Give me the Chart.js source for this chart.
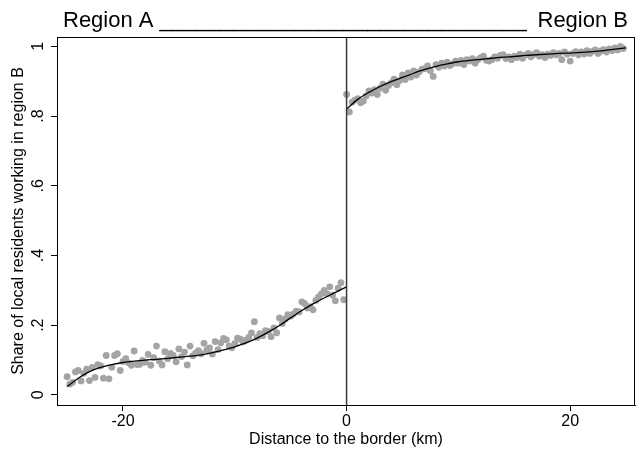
<!DOCTYPE html>
<html>
<head>
<meta charset="utf-8">
<script src="https://cdn.jsdelivr.net/npm/chart.js@4/dist/chart.umd.min.js"></script>
<style>
    body { margin: 0; background: #fff; }
    canvas { display: block; }
</style>
</head>
<body>
<canvas id="rdd" width="642" height="453"></canvas>
<script>
// Distance bins (km) and share working in region B
const distLeft = [
    -25, -24.75, -24.5, -24.25, -24, -23.75, -23.5, -23.25,
    -23, -22.75, -22.5, -22.25, -22, -21.75, -21.5, -21.25,
    -21, -20.75, -20.5, -20.25, -20, -19.75, -19.5, -19.25,
    -19, -18.75, -18.5, -18.25, -18, -17.75, -17.5, -17.25,
    -17, -16.75, -16.5, -16.25, -16, -15.75, -15.5, -15.25,
    -15, -14.75, -14.5, -14.25, -14, -13.75, -13.5, -13.25,
    -13, -12.75, -12.5, -12.25, -12, -11.75, -11.5, -11.25,
    -11, -10.75, -10.5, -10.25, -10, -9.75, -9.5, -9.25,
    -9, -8.75, -8.5, -8.25, -8, -7.75, -7.5, -7.25,
    -7, -6.75, -6.5, -6.25, -6, -5.75, -5.5, -5.25,
    -5, -4.75, -4.5, -4.25, -4, -3.75, -3.5, -3.25,
    -3, -2.75, -2.5, -2.25, -2, -1.75, -1.5, -1.25,
    -1, -0.75, -0.5, -0.25
];
const shareLeft = [
    0.052, 0.031, 0.036, 0.066, 0.070, 0.040, 0.062, 0.074,
    0.041, 0.079, 0.050, 0.087, 0.083, 0.048, 0.113, 0.046,
    0.079, 0.113, 0.118, 0.070, 0.096, 0.104, 0.092, 0.085,
    0.126, 0.087, 0.088, 0.099, 0.094, 0.116, 0.085, 0.107,
    0.140, 0.097, 0.086, 0.124, 0.104, 0.119, 0.113, 0.095,
    0.132, 0.110, 0.123, 0.086, 0.140, 0.112, 0.120, 0.127,
    0.118, 0.148, 0.129, 0.135, 0.117, 0.153, 0.130, 0.149,
    0.162, 0.158, 0.140, 0.135, 0.147, 0.163, 0.160, 0.152,
    0.157, 0.165, 0.178, 0.210, 0.165, 0.176, 0.170, 0.184,
    0.182, 0.167, 0.192, 0.178, 0.221, 0.205, 0.218, 0.230,
    0.226, 0.232, 0.240, 0.238, 0.267, 0.262, 0.249, 0.253,
    0.244, 0.271, 0.281, 0.290, 0.300, 0.290, 0.310, 0.286,
    0.270, 0.306, 0.322, 0.273
];
const distRight = [
    0, 0.25, 0.5, 0.75, 1, 1.25, 1.5, 1.75,
    2, 2.25, 2.5, 2.75, 3, 3.25, 3.5, 3.75,
    4, 4.25, 4.5, 4.75, 5, 5.25, 5.5, 5.75,
    6, 6.25, 6.5, 6.75, 7, 7.25, 7.5, 7.75,
    8, 8.25, 8.5, 8.75, 9, 9.25, 9.5, 9.75,
    10, 10.25, 10.5, 10.75, 11, 11.25, 11.5, 11.75,
    12, 12.25, 12.5, 12.75, 13, 13.25, 13.5, 13.75,
    14, 14.25, 14.5, 14.75, 15, 15.25, 15.5, 15.75,
    16, 16.25, 16.5, 16.75, 17, 17.25, 17.5, 17.75,
    18, 18.25, 18.5, 18.75, 19, 19.25, 19.5, 19.75,
    20, 20.25, 20.5, 20.75, 21, 21.25, 21.5, 21.75,
    22, 22.25, 22.5, 22.75, 23, 23.25, 23.5, 23.75,
    24, 24.25, 24.5, 24.75
];
const shareRight = [
    0.862, 0.812, 0.840, 0.846, 0.850, 0.838, 0.843, 0.858,
    0.872, 0.866, 0.876, 0.862, 0.880, 0.892, 0.874, 0.888,
    0.896, 0.906, 0.890, 0.902, 0.918, 0.905, 0.924, 0.912,
    0.930, 0.918, 0.927, 0.935, 0.936, 0.944, 0.930, 0.914,
    0.948, 0.940, 0.952, 0.944, 0.955, 0.945, 0.950, 0.958,
    0.952, 0.960, 0.948, 0.962, 0.958, 0.965, 0.952, 0.962,
    0.968, 0.972, 0.960, 0.958, 0.962, 0.970, 0.966, 0.974,
    0.976, 0.965, 0.970, 0.962, 0.972, 0.968, 0.978, 0.966,
    0.975, 0.980, 0.970, 0.977, 0.982, 0.972, 0.976, 0.968,
    0.978, 0.974, 0.982, 0.976, 0.980, 0.962, 0.984, 0.978,
    0.958, 0.980, 0.985, 0.976, 0.984, 0.978, 0.988, 0.980,
    0.986, 0.990, 0.980, 0.987, 0.991, 0.984, 0.993, 0.988,
    0.996, 0.990, 1.000, 0.994
];

// Fitted polynomial on each side of the border
const fitLeftX = [-25, -24, -23, -22, -21, -20, -19, -18, -17, -16, -15, -14, -13,
                  -12, -11, -10, -9, -8, -7, -6, -5, -4, -3, -2, -1, 0];
const fitLeftY = [0.024, 0.048, 0.067, 0.079, 0.087, 0.093, 0.097, 0.100, 0.102, 0.105, 0.108, 0.111, 0.115,
                  0.121, 0.129, 0.138, 0.149, 0.163, 0.180, 0.199, 0.221, 0.242, 0.261, 0.278, 0.294, 0.310];
const fitRightX = [0, 1, 2, 3, 4, 5, 6, 7, 8, 9, 10, 11, 12,
                   13, 14, 15, 16, 17, 18, 19, 20, 21, 22, 23, 24, 25];
const fitRightY = [0.820, 0.848, 0.868, 0.885, 0.899, 0.911, 0.923, 0.934, 0.943, 0.950, 0.956, 0.960, 0.963,
                   0.966, 0.969, 0.971, 0.974, 0.976, 0.978, 0.980, 0.981, 0.983, 0.985, 0.988, 0.992, 0.996];

const xTicks = [-20, 0, 20];
const yTicks = [0, 0.2, 0.4, 0.6, 0.8, 1];
const yTickLabels = ['0', '.2', '.4', '.6', '.8', '1'];

const FONT = "'Liberation Sans', Arial, sans-serif";

const toPoints = (xs, ys) => xs.map((x, i) => ({ x: x, y: ys[i] }));

// frame, border line at 0, rotated y labels, header
const decorPlugin = {
    id: 'decor',
    afterDraw(chart) {
        const { ctx, chartArea: a, scales } = chart;
        ctx.save();
        // vertical line at the border
        const x0 = scales.x.getPixelForValue(0);
        ctx.strokeStyle = '#3a3a3a';
        ctx.lineWidth = 1.5;
        ctx.beginPath();
        ctx.moveTo(x0, a.top);
        ctx.lineTo(x0, a.bottom);
        ctx.stroke();
        // box
        ctx.strokeStyle = '#000';
        ctx.lineWidth = 1;
        ctx.strokeRect(a.left + 0.5, a.top + 0.5, a.right - a.left - 1, a.bottom - a.top);
        // y tick labels, rotated like Stata
        ctx.fillStyle = '#000';
        ctx.font = '16px ' + FONT;
        ctx.textAlign = 'center';
        ctx.textBaseline = 'alphabetic';
        yTicks.forEach((v, i) => {
            const y = scales.y.getPixelForValue(v);
            ctx.save();
            ctx.translate(43, y);
            ctx.rotate(-Math.PI / 2);
            ctx.fillText(yTickLabels[i], 0, 0);
            ctx.restore();
        });
        // header: Region A ____ Region B
        ctx.font = '22px ' + FONT;
        ctx.textAlign = 'left';
        ctx.fillText('Region A', 63, 27);
        ctx.textAlign = 'right';
        ctx.fillText('Region B', 628, 27);
        const leftEnd = 63 + ctx.measureText('Region A ').width;
        const rightStart = 628 - ctx.measureText(' Region B').width;
        const uw = ctx.measureText('_').width;
        const n = Math.floor((rightStart - leftEnd) / uw);
        ctx.textAlign = 'left';
        ctx.fillText('_'.repeat(n), leftEnd, 27);
        ctx.restore();
    }
};

new Chart(document.getElementById('rdd'), {
    type: 'scatter',
    plugins: [decorPlugin],
    data: {
        datasets: [
            {
                type: 'line',
                data: toPoints(fitLeftX, fitLeftY),
                borderColor: '#000',
                borderWidth: 1.3,
                pointRadius: 0,
                cubicInterpolationMode: 'monotone',
                fill: false
            },
            {
                type: 'line',
                data: toPoints(fitRightX, fitRightY),
                borderColor: '#000',
                borderWidth: 1.3,
                pointRadius: 0,
                cubicInterpolationMode: 'monotone',
                fill: false
            },
            {
                data: toPoints(distLeft, shareLeft),
                backgroundColor: '#a4a4a4',
                borderWidth: 0,
                pointRadius: 3.4
            },
            {
                data: toPoints(distRight, shareRight),
                backgroundColor: '#a4a4a4',
                borderWidth: 0,
                pointRadius: 3.4
            }
        ]
    },
    options: {
        responsive: false,
        animation: false,
        layout: { padding: { top: 37, right: 7, left: 0, bottom: 0 } },
        plugins: {
            legend: { display: false },
            tooltip: { enabled: false }
        },
        scales: {
            x: {
                type: 'linear',
                min: -25.9,
                max: 25.8,
                afterBuildTicks: (s) => { s.ticks = xTicks.map(v => ({ value: v })); },
                afterFit: (s) => { s.height = 48; },
                grid: { drawOnChartArea: false, drawTicks: true, tickLength: 6, color: '#000' },
                border: { color: '#000' },
                ticks: { color: '#000', padding: 1, font: { family: FONT, size: 16 } },
                title: {
                    display: true,
                    text: 'Distance to the border (km)',
                    color: '#000',
                    font: { family: FONT, size: 16 },
                    padding: { top: 0, bottom: 4 }
                }
            },
            y: {
                type: 'linear',
                min: -0.029,
                max: 1.027,
                afterBuildTicks: (s) => { s.ticks = yTicks.map(v => ({ value: v })); },
                afterFit: (s) => { s.width = 57; },
                grid: { drawOnChartArea: false, drawTicks: true, tickLength: 6, color: '#000' },
                border: { color: '#000' },
                ticks: { display: false },
                title: {
                    display: true,
                    text: 'Share of local residents working in region B',
                    color: '#000',
                    font: { family: FONT, size: 16 },
                    padding: { top: 9, bottom: 0 }
                }
            }
        }
    }
});
</script>
</body>
</html>
